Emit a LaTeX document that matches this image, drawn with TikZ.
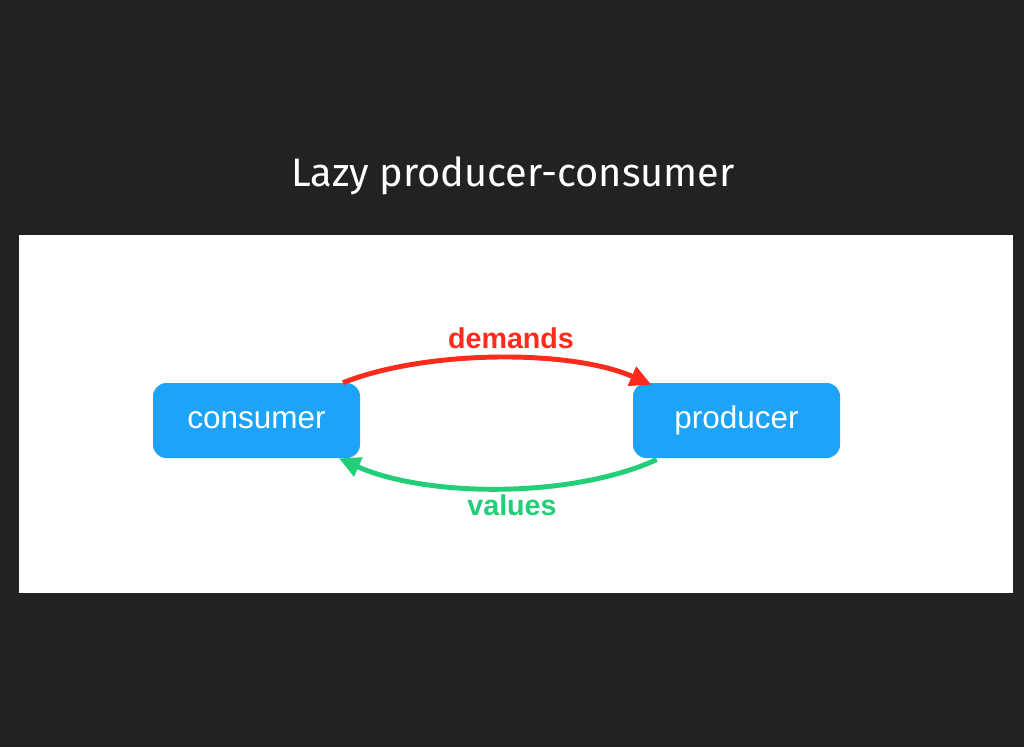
\documentclass[tikz,border=0pt]{standalone}
\usepackage{fontspec}
\setmainfont{Liberation Sans}
\newfontfamily\titlefont{Fira Sans}
\usetikzlibrary{arrows.meta}
\definecolor{bgdark}{HTML}{222222}
\definecolor{boxblue}{HTML}{1DA4F8}
\definecolor{demred}{HTML}{FC2B1C}
\definecolor{valgreen}{HTML}{22CE78}
\tikzset{
  procbox/.style={fill=boxblue, rounded corners=10pt, minimum width=207*0.75pt, minimum height=75*0.75pt, inner sep=0pt, text=white, font=\fontsize{23.6}{27}\selectfont},
  flow/.style={line width=3.7pt, -{Triangle[length=16pt,width=15pt]}},
  flowlabel/.style={font=\bfseries\fontsize{21.5}{25}\selectfont, anchor=base}
}
\begin{document}
\begin{tikzpicture}[x=0.75pt,y=-0.75pt]
\fill[bgdark] (0,0) rectangle (1024,747);
\useasboundingbox (0,0) rectangle (1024,747);
\fill[white] (19,235) rectangle (1013,593);
\node[text=white, font=\titlefont\fontsize{29.8}{34}\selectfont, anchor=base] (title) at (513,186) {Lazy producer-consumer};
\node[procbox] (consumer) at (256.5,420.5) {consumer};
\node[procbox] (producer) at (736.5,420.5) {producer};
\draw[flow, demred] ([xshift=-13pt]consumer.north east) .. controls (425,350) and (570,349) .. ([xshift=14pt,yshift=-1.5pt]producer.north west);
\draw[flow, valgreen] ([xshift=18pt,yshift=-1pt]producer.south west) .. controls (570,499) and (425,497) .. ([xshift=-16pt]consumer.south east);
\node[flowlabel, text=demred] (demlabel) at (511,348) {demands};
\node[flowlabel, text=valgreen] (vallabel) at (512,515) {values};
\end{tikzpicture}
\end{document}
